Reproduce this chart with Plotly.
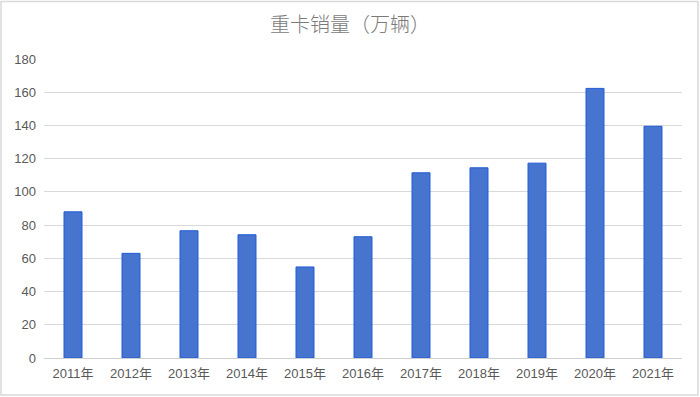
import plotly.graph_objects as go

years = ["2011年", "2012年", "2013年", "2014年", "2015年", "2016年",
         "2017年", "2018年", "2019年", "2020年", "2021年"]
sales = [88.0, 63.0, 76.6, 74.2, 54.8, 73.0, 111.5, 114.5, 117.3, 162.3, 139.5]
y_ticks = [0, 20, 40, 60, 80, 100, 120, 140, 160, 180]

W, H = 700, 397
L, R, T, B = 44, 18, 59, 39
pw, ph = W - L - R, H - T - B

fig = go.Figure(go.Bar(
    x=years, y=sales,
    marker=dict(color="#4674CE", line=dict(color="#1F5CD6", width=1)),
    width=0.31,
))

def px_x(p):
    return (p - L) / pw

def px_y(p):
    return (H - B - p) / ph

fig.add_shape(type="rect", xref="paper", yref="paper",
              x0=px_x(1), x1=px_x(698), y0=px_y(395), y1=px_y(1.5),
              line=dict(color="#D9D9D9", width=1.5), fillcolor="rgba(0,0,0,0)",
              layer="below")

fig.update_layout(
    width=W, height=H,
    margin=dict(l=L, r=R, t=T, b=B),
    paper_bgcolor="white", plot_bgcolor="white",
    title=dict(text="重卡销量（万辆）", x=0.5, xanchor="center", y=1 - 25 / H, yanchor="middle",
               font=dict(family="Noto Sans CJK SC", size=20, color="#7A7A7A", weight=300)),
    font=dict(family="Liberation Sans, Noto Sans CJK SC", size=13, color="#595959"),
    showlegend=False,
    xaxis=dict(showgrid=False, ticks="", showline=False, ticklabelstandoff=6,
               tickfont=dict(size=13, color="#595959")),
    yaxis=dict(range=[0, 180], tickvals=y_ticks, showgrid=True, gridcolor="#D9D9D9",
               gridwidth=1, zeroline=True, zerolinecolor="#D0D0D0", zerolinewidth=1,
               ticks="", ticklabelstandoff=7, tickfont=dict(size=13, color="#595959")),
)

fig.write_html("out.html", config={"displayModeBar": False},
               post_script="document.body.style.margin='0';document.body.style.overflow='hidden';")
